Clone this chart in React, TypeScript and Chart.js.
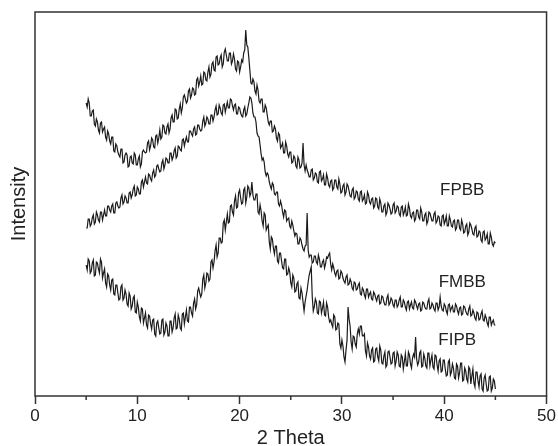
import { useEffect, useRef } from "react";
import { Chart, registerables } from "chart.js";

Chart.register(...registerables);

// 2-theta sampling grid (degrees)
const X_START = 5;
const X_STEP = 0.1;

// Intensity readings (arbitrary units), one per 0.1 deg from 5 to 45
const FPBB = [
  292, 288, 296, 292, 279, 279, 284, 285, 271, 269, 276, 273, 265, 262, 272, 273, 263, 266, 268, 258,
  255, 264, 261, 254, 251, 258, 258, 244, 243, 251, 249, 243, 240, 238, 246, 246, 232, 233, 240, 242,
  240, 228, 229, 238, 239, 232, 231, 242, 240, 230, 230, 236, 239, 228, 231, 243, 245, 243, 242, 243,
  252, 254, 245, 249, 257, 255, 248, 247, 259, 260, 252, 257, 265, 256, 258, 270, 269, 262, 261, 268,
  271, 262, 266, 277, 280, 273, 273, 286, 285, 276, 277, 286, 291, 282, 287, 298, 300, 296, 292, 294,
  304, 306, 297, 300, 307, 306, 300, 301, 315, 317, 309, 313, 319, 310, 311, 323, 322, 315, 314, 323,
  328, 318, 321, 331, 333, 325, 324, 338, 339, 330, 331, 337, 340, 328, 331, 343, 346, 340, 334, 334,
  342, 342, 331, 334, 341, 336, 326, 324, 334, 333, 323, 328, 335, 333, 342, 345, 365, 350, 348, 337,
  325, 312, 311, 316, 313, 304, 301, 310, 305, 294, 292, 296, 296, 283, 283, 290, 287, 280, 273, 270,
  274, 274, 263, 264, 269, 266, 257, 254, 262, 260, 247, 249, 252, 242, 242, 253, 249, 241, 238, 243,
  243, 232, 233, 239, 237, 229, 227, 238, 235, 227, 228, 232, 252, 230, 224, 230, 225, 222, 218, 218,
  225, 226, 215, 217, 222, 221, 213, 212, 223, 224, 214, 216, 220, 210, 210, 221, 217, 210, 208, 214,
  215, 205, 207, 215, 215, 208, 206, 216, 211, 202, 203, 209, 211, 200, 203, 211, 209, 204, 199, 198,
  205, 207, 196, 198, 204, 203, 196, 194, 203, 204, 194, 196, 200, 191, 192, 203, 200, 193, 191, 196,
  197, 187, 189, 197, 196, 188, 186, 196, 192, 183, 183, 189, 191, 180, 183, 192, 190, 186, 181, 182,
  190, 192, 182, 184, 189, 188, 181, 179, 188, 189, 180, 183, 188, 179, 180, 191, 187, 179, 177, 182,
  183, 174, 176, 185, 185, 178, 176, 187, 183, 174, 174, 180, 182, 171, 174, 183, 182, 178, 174, 174,
  181, 183, 172, 174, 179, 178, 170, 169, 179, 180, 171, 174, 179, 169, 169, 179, 175, 169, 168, 174,
  175, 165, 167, 175, 175, 167, 165, 175, 171, 162, 163, 169, 171, 160, 163, 172, 170, 166, 161, 160,
  167, 169, 158, 159, 164, 163, 155, 153, 163, 164, 155, 157, 161, 151, 151, 162, 158, 151, 149, 153,
  152,
];

const FMBB = [
  167, 167, 176, 176, 169, 171, 177, 180, 171, 173, 183, 180, 175, 173, 183, 183, 175, 180, 185, 179,
  179, 189, 189, 185, 183, 189, 191, 182, 182, 192, 193, 189, 187, 188, 197, 200, 191, 193, 199, 197,
  192, 192, 202, 203, 197, 200, 206, 209, 199, 200, 208, 206, 201, 201, 213, 215, 208, 213, 218, 212,
  211, 221, 220, 216, 214, 222, 225, 218, 220, 229, 230, 226, 223, 224, 232, 235, 226, 230, 237, 236,
  232, 232, 242, 242, 235, 238, 244, 247, 237, 239, 249, 248, 245, 244, 255, 256, 249, 254, 258, 253,
  253, 264, 264, 261, 259, 266, 268, 260, 261, 270, 270, 266, 264, 265, 274, 278, 269, 272, 278, 276,
  271, 271, 280, 280, 274, 278, 285, 289, 280, 281, 290, 287, 282, 280, 290, 291, 283, 288, 293, 287,
  287, 296, 295, 289, 285, 290, 291, 281, 281, 288, 287, 282, 279, 278, 285, 288, 279, 281, 287, 292,
  298, 297, 292, 282, 278, 278, 273, 262, 259, 258, 250, 241, 235, 237, 233, 223, 219, 222, 220, 213,
  209, 206, 212, 210, 201, 200, 203, 203, 191, 189, 194, 190, 183, 178, 185, 184, 174, 176, 177, 169,
  167, 174, 170, 164, 159, 162, 161, 151, 151, 157, 155, 150, 146, 144, 149, 150, 182, 145, 138, 140,
  140, 132, 133, 139, 139, 133, 131, 140, 136, 128, 128, 133, 135, 127, 131, 138, 137, 140, 142, 131,
  125, 131, 127, 122, 119, 124, 125, 116, 117, 124, 122, 117, 114, 112, 118, 120, 110, 111, 116, 113,
  107, 105, 113, 112, 105, 106, 110, 112, 101, 100, 107, 105, 100, 97, 106, 106, 98, 101, 103, 96,
  95, 103, 101, 97, 94, 99, 100, 91, 92, 99, 98, 93, 90, 90, 97, 100, 90, 92, 97, 95,
  90, 88, 95, 95, 88, 90, 95, 98, 88, 88, 95, 93, 88, 85, 93, 94, 86, 90, 93, 87,
  86, 95, 93, 89, 86, 91, 92, 84, 85, 93, 92, 88, 86, 86, 93, 96, 86, 87, 92, 90,
  86, 84, 92, 92, 85, 88, 98, 89, 85, 84, 91, 89, 84, 81, 90, 91, 84, 87, 89, 83,
  83, 91, 89, 84, 81, 87, 88, 80, 81, 89, 88, 84, 81, 80, 86, 89, 79, 80, 85, 82,
  77, 75, 83, 82, 75, 76, 81, 84, 75, 74, 80, 77, 72, 69, 78, 78, 70, 73, 75, 70,
  70,
];

const FIPB = [
  130, 125, 136, 134, 122, 124, 132, 135, 119, 120, 133, 132, 126, 122, 136, 133, 117, 122, 126, 112,
  108, 121, 119, 110, 105, 115, 116, 101, 100, 110, 110, 102, 95, 96, 108, 110, 95, 97, 105, 101,
  91, 89, 102, 99, 86, 89, 97, 99, 83, 82, 93, 88, 78, 74, 87, 86, 72, 77, 82, 70,
  67, 80, 79, 71, 66, 75, 76, 61, 59, 72, 74, 67, 61, 62, 75, 76, 60, 63, 72, 69,
  59, 59, 74, 74, 63, 67, 77, 81, 66, 67, 80, 76, 67, 65, 81, 82, 71, 78, 85, 74,
  73, 88, 88, 82, 79, 92, 96, 86, 90, 104, 107, 102, 98, 101, 116, 120, 107, 112, 122, 121,
  114, 116, 133, 135, 127, 133, 144, 150, 138, 142, 157, 157, 152, 153, 172, 175, 165, 173, 181, 172,
  173, 189, 190, 183, 180, 194, 199, 187, 188, 202, 205, 197, 191, 192, 205, 207, 192, 198, 209, 207,
  199, 202, 213, 200, 195, 195, 201, 201, 183, 181, 190, 184, 174, 169, 182, 180, 165, 168, 170, 153,
  146, 158, 156, 147, 141, 149, 149, 134, 132, 142, 142, 134, 127, 126, 136, 136, 120, 121, 127, 123,
  112, 108, 120, 117, 103, 104, 111, 113, 97, 96, 107, 102, 93, 84, 93, 99, 105, 113, 120, 124,
  128, 98, 84, 88, 96, 93, 82, 81, 94, 93, 82, 87, 93, 80, 79, 92, 88, 78, 73, 75,
  71, 68, 80, 78, 65, 66, 72, 71, 51, 47, 55, 49, 38, 33, 45, 55, 88, 76, 69, 53,
  46, 59, 58, 51, 48, 61, 66, 61, 69, 69, 59, 59, 61, 44, 39, 52, 48, 39, 36, 45,
  47, 33, 34, 46, 47, 38, 34, 49, 45, 32, 31, 39, 43, 28, 30, 43, 44, 38, 31, 32,
  42, 43, 29, 34, 43, 40, 29, 28, 40, 38, 26, 33, 41, 29, 29, 43, 40, 31, 27, 37,
  41, 38, 58, 36, 30, 33, 42, 44, 28, 29, 41, 37, 29, 27, 42, 42, 29, 35, 40, 28,
  26, 40, 39, 30, 24, 34, 36, 23, 24, 35, 35, 26, 19, 20, 33, 35, 20, 23, 31, 27,
  17, 16, 31, 29, 17, 22, 32, 32, 14, 15, 27, 24, 16, 13, 28, 26, 11, 19, 26, 12,
  8, 23, 23, 14, 8, 19, 21, 6, 4, 17, 20, 11, 4, 5, 18, 19, 4, 7, 16, 14,
  6,
];

const SERIES_NAMES = ["FPBB", "FMBB", "FIPB"];
const MINOR_TICKS = [5, 15, 25, 35, 45];

const FONT = '"Liberation Sans", Arial, Helvetica, sans-serif';
const INK = "#222222";

export default function App() {
  const ref = useRef<HTMLCanvasElement>(null);

  useEffect(() => {
    document.body.style.margin = "0";
    const canvas = ref.current;
    if (!canvas) return;

    const xs = FPBB.map((_, i) => +(X_START + i * X_STEP).toFixed(1));
    const toPts = (vals: number[]) => vals.map((v, i) => ({ x: xs[i], y: v }));

    // label anchors in data units
    const anchors: [number, number][] = [
      [41.76, 205],
      [41.76, 113],
      [41.27, 55],
    ];

    const framePlugin = {
      id: "frameAndLabels",
      afterDatasetsDraw(chart: any) {
        const { ctx, chartArea: a, scales } = chart;
        ctx.save();
        ctx.strokeStyle = "#333333";
        ctx.lineWidth = 1.5;
        ctx.strokeRect(a.left, a.top, a.right - a.left, a.bottom - a.top);
        MINOR_TICKS.forEach((v) => {
          const p = scales.x.getPixelForValue(v);
          ctx.beginPath();
          ctx.moveTo(p, a.bottom);
          ctx.lineTo(p, a.bottom + 4);
          ctx.stroke();
        });
        ctx.font = `17px ${FONT}`;
        ctx.fillStyle = INK;
        ctx.textAlign = "center";
        ctx.textBaseline = "middle";
        SERIES_NAMES.forEach((name, i) => {
          const [vx, vy] = anchors[i];
          ctx.fillText(name, scales.x.getPixelForValue(vx), scales.y.getPixelForValue(vy));
        });
        ctx.restore();
      },
    };

    const chart = new Chart(canvas, {
      type: "line",
      data: {
        datasets: [FPBB, FMBB, FIPB].map((vals, i) => ({
          label: SERIES_NAMES[i],
          data: toPts(vals),
          borderColor: "#1a1a1a",
          borderWidth: 1.2,
          pointRadius: 0,
          fill: false,
          tension: 0,
        })),
      },
      options: {
        responsive: false,
        animation: false,
        layout: { padding: { top: 12, right: 11, left: 0, bottom: 0 } },
        plugins: { legend: { display: false }, tooltip: { enabled: false } },
        scales: {
          x: {
            type: "linear",
            min: 0,
            max: 50,
            ticks: {
              stepSize: 10,
              font: { size: 17, family: FONT },
              color: INK,
              padding: 2,
              maxRotation: 0,
            },
            grid: {
              drawOnChartArea: false,
              drawTicks: true,
              tickLength: 8,
              tickColor: "#333333",
              tickWidth: 1.5,
            },
            border: { display: false },
            title: {
              display: true,
              text: "2 Theta",
              font: { size: 20, family: FONT, lineHeight: 0.8 },
              color: INK,
              padding: 0,
            },
            afterFit: (s: any) => {
              s.height = 50;
            },
          },
          y: {
            type: "linear",
            min: -1,
            max: 383,
            ticks: { display: false },
            grid: { display: false },
            border: { display: false },
            title: {
              display: true,
              text: "Intensity",
              font: { size: 20, family: FONT, lineHeight: 1 },
              color: INK,
              padding: { top: 9, bottom: 0 },
            },
            afterFit: (s: any) => {
              s.width = 35;
            },
          },
        },
      },
      plugins: [framePlugin],
    });

    return () => chart.destroy();
  }, []);

  return (
    <div style={{ width: 558, height: 446 }}>
      <canvas ref={ref} width={558} height={446} style={{ display: "block" }} />
    </div>
  );
}
